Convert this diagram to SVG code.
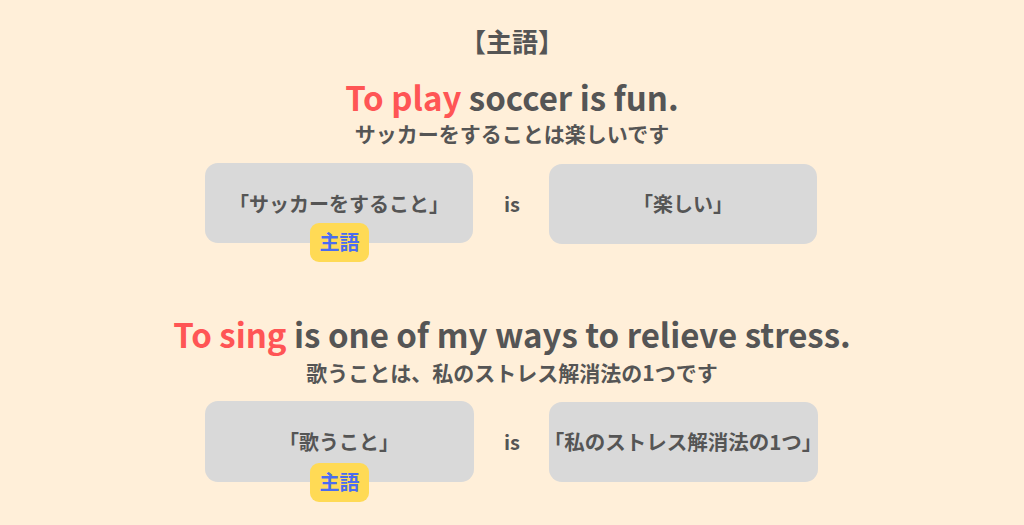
<svg xmlns="http://www.w3.org/2000/svg" width="1024" height="525" viewBox="0 0 1024 525">
<style>
text{font-family:"Noto Sans CJK JP","Noto Sans",sans-serif;font-weight:bold;fill:#555555;text-anchor:middle}
.hl{fill:#FF5555}
.box{fill:#D9D9D9}
.badge{fill:#FFDA55}
.bt{fill:#4A6CF0;font-size:20px}
.big{font-size:33px}
.sub{font-size:21px}
.in{font-size:20px}
</style>
<rect width="1024" height="525" fill="#FFEFD9"/>
<text x="512" y="52" style="font-size:26px">【主語】</text>
<text class="big" x="512" y="111"><tspan class="hl">To play</tspan> soccer is fun.</text>
<text class="sub" x="512" y="142">サッカーをすることは楽しいです</text>
<g id="n1"><rect class="box" x="205" y="163" width="268" height="80" rx="13"/><text class="in" x="339" y="212">「サッカーをすること」</text></g>
<g id="is1"><text class="in" x="512" y="212">is</text></g>
<g id="n2"><rect class="box" x="549" y="164" width="268" height="80" rx="13"/><text class="in" x="683" y="212">「楽しい」</text></g>
<g id="b1"><rect class="badge" x="310" y="223" width="59" height="39" rx="9"/><text class="bt" x="339.5" y="250">主語</text></g>
<text class="big" x="512" y="348"><tspan class="hl">To sing</tspan> is one of my ways to relieve stress.</text>
<text class="sub" x="512" y="381">歌うことは、私のストレス解消法の1つです</text>
<g id="n3"><rect class="box" x="205" y="401" width="269" height="81" rx="13"/><text class="in" x="339" y="450">「歌うこと」</text></g>
<g id="is2"><text class="in" x="512" y="450">is</text></g>
<g id="n4"><rect class="box" x="549" y="402" width="269" height="80" rx="13"/><text class="in" x="683" y="450" style="font-size:20.5px">「私のストレス解消法の1つ」</text></g>
<g id="b2"><rect class="badge" x="310" y="463" width="59" height="39" rx="9"/><text class="bt" x="339.5" y="490">主語</text></g>
<g id="connectors"/>
</svg>
